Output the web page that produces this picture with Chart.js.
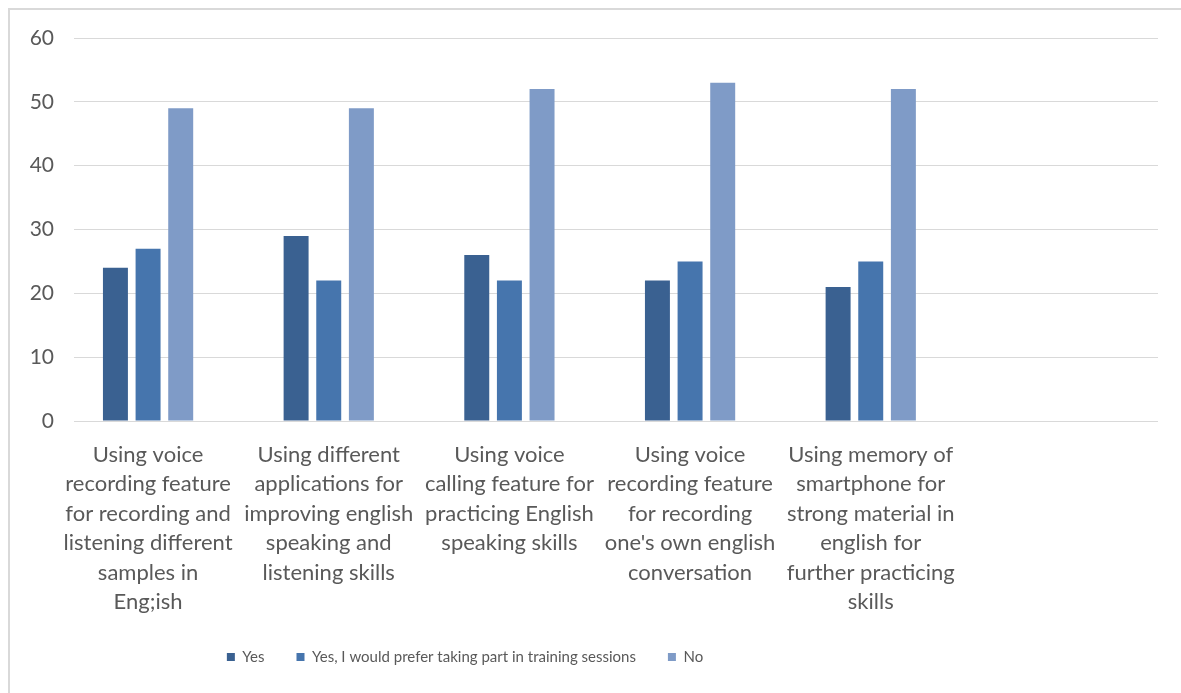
<!DOCTYPE html>
<html>
<head>
<meta charset="utf-8">
<script src="https://cdn.jsdelivr.net/npm/chart.js@4.4.1/dist/chart.umd.min.js"></script>
<style>
  html, body { margin: 0; padding: 0; background: #ffffff; }
  #wrap { position: relative; width: 1181px; height: 693px; overflow: hidden; }
  #frame { position: absolute; left: 8px; top: 8px; right: 0; bottom: 0;
           border-left: 2px solid #d9d9d9; border-top: 2px solid #d9d9d9; }
  #c { position: absolute; left: 0; top: 0; }
</style>
</head>
<body>
<div id="wrap">
  <div id="frame"></div>
  <canvas id="c" width="1181" height="693"></canvas>
</div>
<script>
// Survey items (each one split into the lines it is printed on)
const categoryLines = [
  ['Using voice', 'recording feature', 'for recording and', 'listening different', 'samples in', 'Eng;ish'],
  ['Using different', 'applications for', 'improving english', 'speaking and', 'listening skills'],
  ['Using voice', 'calling feature for', 'practicing English', 'speaking skills'],
  ['Using voice', 'recording feature', 'for recording', "one's own english", 'conversation'],
  ['Using memory of', 'smartphone for', 'strong material in', 'english for', 'further practicing', 'skills']
];

const seriesNames = ['Yes', 'Yes, I would prefer taking part in training sessions', 'No'];
const yesValues = [24, 29, 26, 22, 21];
const trainingValues = [27, 22, 22, 25, 25];
const noValues = [49, 49, 52, 53, 52];

const yTickValues = [0, 10, 20, 30, 40, 50, 60];

const seriesColors = ['#3a6191', '#4675ad', '#7f9bc7'];
const textColor = '#595959';
const gridColor = '#d9d9d9';
const fontFamily = 'Lato, "Open Sans", sans-serif';

const seriesValues = [yesValues, trainingValues, noValues];

const datasets = seriesValues.map((vals, s) => ({
  label: seriesNames[s],
  data: vals.map((v, i) => ({ x: i, y: v })),
  backgroundColor: seriesColors[s],
  borderWidth: 0,
  categoryPercentage: 0.542,
  barPercentage: 0.765
}));

// Centre the legend row under the left part of the plot, where the groups sit
const legendCentre = {
  id: 'legendCentre',
  afterLayout(chart) {
    const lg = chart.legend;
    if (!lg) return;
    const shift = 465 - (lg.left + lg.right) / 2;
    lg.left += shift;
    lg.right += shift;
  }
};

new Chart(document.getElementById('c'), {
  type: 'bar',
  data: { datasets },
  plugins: [legendCentre],
  options: {
    responsive: false,
    devicePixelRatio: 1,
    animation: false,
    layout: { padding: { top: 38, right: 23, bottom: 18.5, left: 0 } },
    plugins: {
      tooltip: { enabled: false },
      legend: {
        position: 'bottom',
        labels: {
          boxWidth: 8,
          boxHeight: 8,
          padding: 32,
          color: textColor,
          font: { family: fontFamily, size: 15 }
        }
      }
    },
    scales: {
      x: {
        type: 'linear',
        offset: false,
        min: -0.41,
        max: 5.59,
        grid: { display: false, drawTicks: false, offset: false },
        border: { display: false },
        afterBuildTicks(scale) {
          scale.ticks = categoryLines.map((_, i) => ({ value: i }));
        },
        afterFit(scale) { scale.height = 196.5; },
        ticks: {
          autoSkip: false,
          maxRotation: 0,
          minRotation: 0,
          padding: 19,
          color: textColor,
          font: { family: fontFamily, size: 22, lineHeight: 29.5 / 22 },
          callback: (value) => categoryLines[value] || ''
        }
      },
      y: {
        min: yTickValues[0],
        max: yTickValues[yTickValues.length - 1],
        grid: { color: gridColor, lineWidth: 1, drawTicks: false },
        border: { display: false },
        afterFit(scale) { scale.width = 74; },
        afterBuildTicks(scale) {
          scale.ticks = yTickValues.map(v => ({ value: v }));
        },
        ticks: {
          padding: 20,
          color: textColor,
          font: { family: fontFamily, size: 21 }
        }
      }
    }
  }
});
</script>
</body>
</html>
